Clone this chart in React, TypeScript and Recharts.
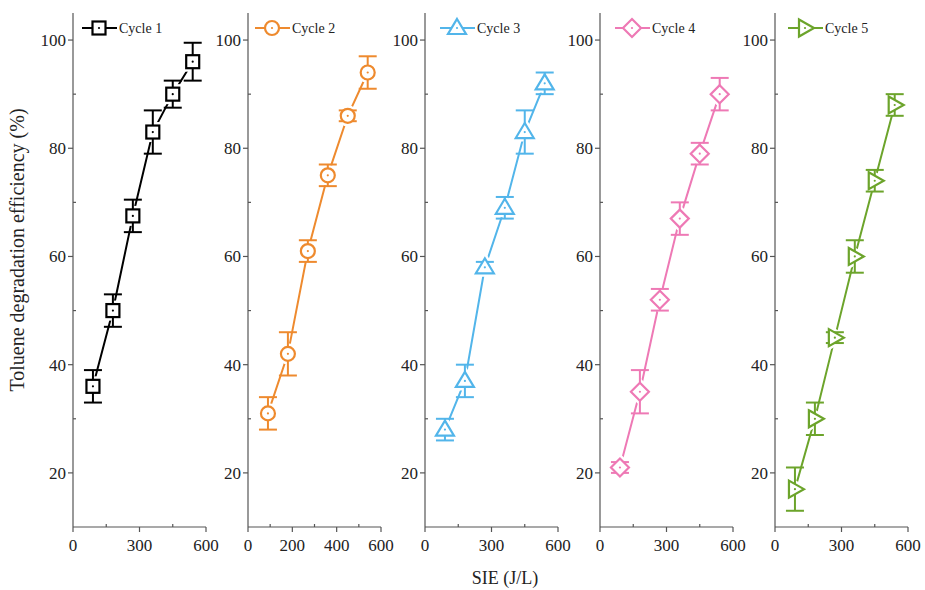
import React from "react";
import { LineChart, Line, XAxis, YAxis, ErrorBar } from "recharts";

const sie = [90, 180, 270, 360, 450, 540];

const cycle1 = [36, 50, 67.5, 83, 90, 96];
const cycle1Err = [3, 3, 3, 4, 2.5, 3.5];
const cycle2 = [31, 42, 61, 75, 86, 94];
const cycle2Err = [3, 4, 2, 2, 1, 3];
const cycle3 = [28, 37, 58, 69, 83, 92];
const cycle3Err = [2, 3, 1, 2, 4, 2];
const cycle4 = [21, 35, 52, 67, 79, 90];
const cycle4Err = [1, 4, 2, 3, 2, 3];
const cycle5 = [17, 30, 45, 60, 74, 88];
const cycle5Err = [4, 3, 1, 3, 2, 2];

const yTicks = [20, 30, 40, 50, 60, 70, 80, 90, 100];
const yMajor = [20, 40, 60, 80, 100];
const xTicks300 = [0, 150, 300, 450, 600];
const xMajor300 = [0, 300, 600];
const xTicks200 = [0, 100, 200, 300, 400, 500, 600];
const xMajor200 = [0, 200, 400, 600];

const FONT = '"Liberation Serif", "Times New Roman", serif';
const AXIS = "#555";
const PLOT_W = 133;
const Y_W = 45;
const CHART_W = Y_W + PLOT_W + 4;
const CHART_H = 560;
const X_H = 33;
const TOP = 13;

type Kind = "square" | "circle" | "triUp" | "diamond" | "triRight";

const panels = [
  { name: "Cycle 1", values: cycle1, errs: cycle1Err, color: "#000000", kind: "square" as Kind, left: 73, legendDx: 9, xTicks: xTicks300, xMajor: xMajor300 },
  { name: "Cycle 2", values: cycle2, errs: cycle2Err, color: "#EE8A2E", kind: "circle" as Kind, left: 248, legendDx: 7, xTicks: xTicks200, xMajor: xMajor200 },
  { name: "Cycle 3", values: cycle3, errs: cycle3Err, color: "#52B5EA", kind: "triUp" as Kind, left: 425, legendDx: 15, xTicks: xTicks300, xMajor: xMajor300 },
  { name: "Cycle 4", values: cycle4, errs: cycle4Err, color: "#EE79B5", kind: "diamond" as Kind, left: 600, legendDx: 15, xTicks: xTicks300, xMajor: xMajor300 },
  { name: "Cycle 5", values: cycle5, errs: cycle5Err, color: "#6CA42B", kind: "triRight" as Kind, left: 775, legendDx: 13, xTicks: xTicks300, xMajor: xMajor300 },
];

function shapeFor(kind: Kind, cx: number, cy: number, props: any) {
  switch (kind) {
    case "square":
      return <rect x={cx - 6.5} y={cy - 6.5} width={13} height={13} {...props} />;
    case "circle":
      return <circle cx={cx} cy={cy} r={7} {...props} />;
    case "triUp":
      return <polygon points={`${cx},${cy - 9} ${cx + 9},${cy + 6} ${cx - 9},${cy + 6}`} {...props} />;
    case "diamond":
      return <polygon points={`${cx},${cy - 9} ${cx + 9},${cy} ${cx},${cy + 9} ${cx - 9},${cy}`} {...props} />;
    default:
      return <polygon points={`${cx - 6},${cy - 8.5} ${cx + 9},${cy} ${cx - 6},${cy + 8.5}`} {...props} />;
  }
}

function Marker({ kind, cx, cy, color }: { kind: Kind; cx: number; cy: number; color: string }) {
  return (
    <g>
      {shapeFor(kind, cx, cy, { fill: "#fff", stroke: color, strokeWidth: 2.2 })}
      <circle cx={cx} cy={cy} r={1.1} fill={color} />
    </g>
  );
}

// white outline over the connecting line so it stops short of each marker
function Halo({ kind, cx, cy }: { kind: Kind; cx: number; cy: number }) {
  return shapeFor(kind, cx, cy, { fill: "#fff", stroke: "#fff", strokeWidth: 7 });
}

function XTick({ x, y, payload, majors }: any) {
  const major = majors.includes(payload.value);
  return (
    <g>
      <line x1={x} x2={x} y1={y} y2={major ? y + 5 : y - 3} stroke={AXIS} strokeWidth={1.2} />
      {major && (
        <text x={x} y={y + 24} textAnchor="middle" fontSize={17} fontFamily={FONT} fill="#222">
          {payload.value}
        </text>
      )}
    </g>
  );
}

function YTick({ x, y, payload }: any) {
  const major = yMajor.includes(payload.value);
  return (
    <g>
      <line x1={major ? x - 5 : x} x2={major ? x : x + 3} y1={y} y2={y} stroke={AXIS} strokeWidth={1.2} />
      {major && (
        <text x={x - 7} y={y + 6} textAnchor="end" fontSize={17} fontFamily={FONT} fill="#222">
          {payload.value}
        </text>
      )}
    </g>
  );
}

function Panel({ p }: { p: (typeof panels)[number] }) {
  const data = sie.map((x, i) => ({ x, y: p.values[i], err: p.errs[i] }));
  const lx = Y_W + p.legendDx;
  return (
    <div style={{ position: "absolute", left: p.left - Y_W, top: 0, width: CHART_W, height: CHART_H }}>
      {/* base layer: frame, ticks, connecting line, white gaps round the markers */}
      <div style={{ position: "absolute", left: 0, top: 0 }}>
        <LineChart width={CHART_W} height={CHART_H} data={data} margin={{ top: TOP, right: 4, left: 0, bottom: 0 }}>
          <XAxis
            type="number"
            dataKey="x"
            domain={[0, 600]}
            ticks={p.xTicks}
            interval={0}
            height={X_H}
            tickSize={0}
            tickMargin={0}
            tickLine={false}
            axisLine={{ stroke: AXIS, strokeWidth: 1.2 }}
            tick={(props: any) => <XTick {...props} majors={p.xMajor} />}
          />
          <XAxis xAxisId="top" orientation="top" type="number" domain={[0, 600]} height={0} tick={false} tickLine={false} axisLine={{ stroke: AXIS, strokeWidth: 1.2 }} />
          <YAxis
            type="number"
            domain={[10, 105]}
            ticks={yTicks}
            interval={0}
            width={Y_W}
            tickSize={0}
            tickMargin={0}
            tickLine={false}
            axisLine={{ stroke: AXIS, strokeWidth: 1.2 }}
            tick={(props: any) => <YTick {...props} />}
          />
          <YAxis yAxisId="right" orientation="right" width={0} tick={false} tickLine={false} axisLine={{ stroke: AXIS, strokeWidth: 1.2 }} />
          <Line type="linear" dataKey="y" stroke={p.color} strokeWidth={2} isAnimationActive={false} dot={false} activeDot={false} />
          <Line
            type="linear"
            dataKey="y"
            stroke="none"
            isAnimationActive={false}
            dot={(d: any) => <Halo key={d.index} kind={p.kind} cx={d.cx} cy={d.cy} />}
            activeDot={false}
          />
        </LineChart>
      </div>
      {/* top layer: error bars with the markers drawn over them, same plot area */}
      <div style={{ position: "absolute", left: 0, top: 0 }}>
        <LineChart width={CHART_W} height={CHART_H} data={data} margin={{ top: TOP, right: 4, left: Y_W, bottom: X_H }}>
          <XAxis type="number" dataKey="x" domain={[0, 600]} hide />
          <YAxis type="number" domain={[10, 105]} hide />
          <Line
            type="linear"
            dataKey="y"
            stroke="none"
            isAnimationActive={false}
            dot={(d: any) => <Marker key={d.index} kind={p.kind} cx={d.cx} cy={d.cy} color={p.color} />}
            activeDot={false}
          >
            <ErrorBar dataKey="err" width={9} strokeWidth={2} stroke={p.color} direction="y" />
          </Line>
        </LineChart>
      </div>
      <svg width={Y_W + PLOT_W} height={40} style={{ position: "absolute", left: 0, top: 0, pointerEvents: "none" }}>
        <line x1={lx} x2={lx + 35} y1={28} y2={28} stroke={p.color} strokeWidth={2} />
        <Marker kind={p.kind} cx={lx + 17} cy={28} color={p.color} />
        <text x={lx + 37} y={33} fontSize={14} fontFamily={FONT} fill="#222">
          {p.name}
        </text>
      </svg>
    </div>
  );
}

export default function App() {
  return (
    <div style={{ position: "absolute", left: 0, top: 0, width: 925, height: 590, background: "#fff", overflow: "hidden" }}>
      <style>{`.recharts-surface { overflow: visible; }`}</style>
      {panels.map((p) => (
        <Panel key={p.name} p={p} />
      ))}
      <svg width={925} height={590} style={{ position: "absolute", left: 0, top: 0, pointerEvents: "none" }}>
        <text transform="translate(24,250) rotate(-90)" textAnchor="middle" fontSize={20} fontFamily={FONT} fill="#222">
          Toluene degradation efficiency (%)
        </text>
        <text x={505} y={584} textAnchor="middle" fontSize={18} fontFamily={FONT} fill="#222">
          SIE (J/L)
        </text>
      </svg>
    </div>
  );
}
